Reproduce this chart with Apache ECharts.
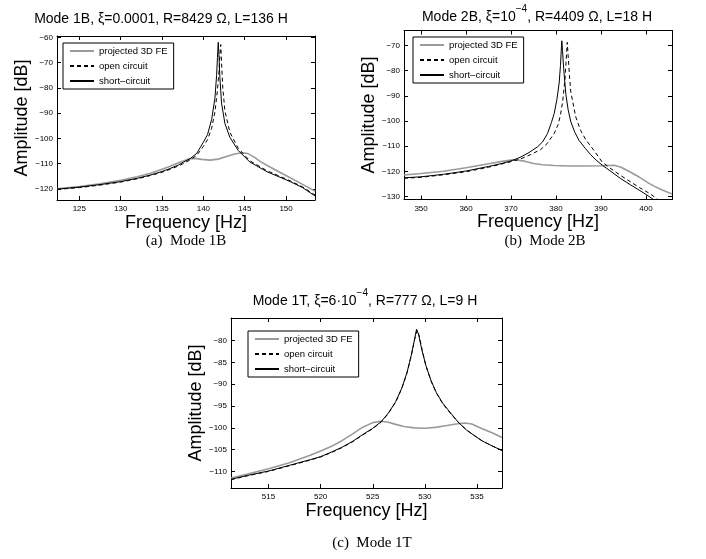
<!DOCTYPE html>
<html>
<head>
<meta charset="utf-8">
<script src="https://cdn.jsdelivr.net/npm/echarts@6/dist/echarts.min.js"></script>
<style>
html,body{margin:0;padding:0;background:#fff;}
#c{width:706px;height:559px;}
</style>
</head>
<body>
<div id="c"></div>
<script>
// ---------- DATA ----------
const seriesNames = ['projected 3D FE', 'open circuit', 'short\u2013circuit'];

// Panel (a) Mode 1B
const p1XTicks = [125, 130, 135, 140, 145, 150];
const p1YTicks = [-120, -110, -100, -90, -80, -70, -60];
const p1FeF = [122.3,125,127.5,130,132,133.6,135,136,137,137.6,138.3,139,139.8,140.8,141.8,142.8,143.8,144.6,145.4,146.2,146.9,148,149.7,151.5,153.5];
const p1FeA = [-120,-119.1,-118,-116.6,-115.2,-113.8,-112.2,-111,-109.6,-108.9,-108.1,-107.9,-108.3,-108.6,-108.2,-107.2,-106.2,-105.7,-106,-107.5,-109.2,-111.2,-114.2,-117.3,-120.9];
const p1OcF = [122.3,125,127.5,130,132,133.6,135,136,137,137.6,138.4,139.2,140,140.5,141,141.4,141.7,141.9,142,142.1,142.2,142.35,142.6,143.2,144.2,145.6,147.7,150.5,152,153.5];
const p1OcA = [-120.2,-119.5,-118.5,-117.3,-116,-114.7,-113.4,-112.2,-110.9,-109.9,-108.5,-106.7,-103.2,-100.5,-96,-89.5,-81,-73,-67,-62.8,-70,-80,-89,-97.5,-103.8,-108.8,-112.8,-116.8,-119.2,-122.4];
const p1ScF = [122.3,125,127.5,130,132,133.6,135,136,137,137.6,138.4,139.2,140,140.5,141,141.4,141.6,141.7,141.8,141.9,142,142.2,142.6,143.2,144.2,145.6,147.7,150.5,152,153.5];
const p1ScA = [-120.1,-119.3,-118.3,-117.1,-115.8,-114.5,-113.1,-111.9,-110.5,-109.4,-108,-105.9,-101.5,-98.5,-92.5,-84,-75,-68,-61.9,-68,-76,-86,-94,-99.5,-104.7,-109.3,-113.2,-117.1,-119.5,-122.8];

// Panel (b) Mode 2B
const p2XTicks = [350, 360, 370, 380, 390, 400];
const p2YTicks = [-130, -120, -110, -100, -90, -80, -70];
const p2FeF = [346.2,350,355,360,365,368,370,371.5,373,375,377,379.6,383,387,390,392.9,394.5,396.6,398.5,400.5,401.8,403.5,405.8];
const p2FeA = [-121.4,-120.8,-119.9,-118.5,-116.9,-116,-115.5,-115.5,-115.9,-116.8,-117.3,-117.6,-117.8,-117.8,-117.7,-117.5,-118.3,-120.3,-122.2,-124.5,-125.8,-127.2,-128.9];
const p2OcF = [346.2,350,355,360,365,368,370,372,374,376.6,378,379.6,380.5,381,381.5,382,382.3,382.5,382.7,383,383.3,384.4,385.5,386.6,388.5,390.3,392,394.3,396.5,398.5,401,402.6];
const p2OcA = [-122.7,-122.3,-121.3,-120.1,-118.3,-117,-116.1,-115.1,-113.6,-111.3,-109,-104.9,-101.3,-97.5,-92,-83.5,-75,-68.8,-74,-82,-88.5,-98.4,-103.8,-107.3,-111.8,-116.3,-118.6,-121.5,-124,-126.3,-128.9,-131];
const p2ScF = [346.2,350,355,360,365,368,370,372,374,375.9,377,378.1,379,379.6,380.2,380.7,381,381.2,381.3,381.45,381.7,382.2,382.7,383.3,384.2,385.1,386.5,387.7,389,390.3,392,394.3,396.5,398.5,400.2,401.6];
const p2ScA = [-122.5,-122.1,-121.1,-119.8,-118,-116.8,-115.8,-114.4,-112.5,-110.2,-108.3,-105,-100.5,-97,-91.5,-85,-78,-71,-68.2,-72,-79,-89.5,-95.5,-100.3,-104.5,-107.6,-110.8,-113.3,-115.6,-117.5,-119.7,-122.7,-125.2,-127.4,-129.3,-131];

// Panel (c) Mode 1T
const p3XTicks = [515, 520, 525, 530, 535];
const p3YTicks = [-110, -105, -100, -95, -90, -85, -80];
const p3FeF = [511.4,513,515,517,519,520,521,522,523,524,525,525.8,526.5,527.2,528,529,530,531,532,533,533.8,534.5,535.5,536.5,537.4];
const p3FeA = [-111.5,-110.6,-109.4,-108,-106.3,-105.3,-104.3,-103,-101.5,-99.9,-98.8,-98.5,-98.7,-99.2,-99.7,-100,-100.1,-99.9,-99.5,-99.1,-98.9,-99.1,-100.2,-101.2,-102.2];
const p3OcF = [511.4,513,515,517,519,520,521,522,523,524,525,525.8,526.5,527.2,527.8,528.3,528.7,529,529.25,529.45,529.75,530.1,530.6,531.1,531.7,532.4,533.2,534,534.7,535.5,536.5,537.4];
const p3OcA = [-111.9,-111,-110,-108.7,-107.4,-106.7,-105.7,-104.6,-103.3,-101.7,-100.2,-98.7,-96.7,-94.1,-90.9,-87.3,-83.4,-79.9,-77.6,-78.8,-82.2,-85.8,-89.3,-92,-94.4,-96.5,-98.7,-100.5,-101.7,-103,-104.2,-105.2];
const p3ScF = [511.4,513,515,517,519,520,521,522,523,524,525,525.8,526.5,527.2,527.8,528.3,528.7,529,529.2,529.4,529.7,530.1,530.6,531.1,531.7,532.4,533.2,534,534.7,535.5,536.5,537.4];
const p3ScA = [-111.8,-110.9,-109.9,-108.6,-107.3,-106.6,-105.6,-104.5,-103.2,-101.6,-100.1,-98.6,-96.6,-94,-90.8,-87.2,-83.3,-79.8,-77.4,-78.6,-82,-85.7,-89.2,-91.9,-94.3,-96.4,-98.7,-100.5,-101.7,-103,-104.2,-105.2];

// ---------- CHART ----------
const FONT = '"Liberation Sans", Arial, Helvetica, sans-serif';
const SERIF = '"Liberation Serif", "Times New Roman", serif';
const GRAY = '#9a9a9a';

const panels = [
  {grid:{left:57, top:36, width:258, height:164}, xr:[122.3,153.5], yr:[-124.4,-59.4], xt:p1XTicks, yt:p1YTicks,
   fe:[p1FeF,p1FeA], oc:[p1OcF,p1OcA], sc:[p1ScF,p1ScA], legend:{left:63, top:43}},
  {grid:{left:404, top:30.5, width:268, height:169}, xr:[346.2,405.8], yr:[-131.1,-64.1], xt:p2XTicks, yt:p2YTicks,
   fe:[p2FeF,p2FeA], oc:[p2OcF,p2OcA], sc:[p2ScF,p2ScA], legend:{left:413, top:37}},
  {grid:{left:231, top:318, width:271, height:170}, xr:[511.4,537.4], yr:[-113.8,-74.8], xt:p3XTicks, yt:p3YTicks,
   fe:[p3FeF,p3FeA], oc:[p3OcF,p3OcA], sc:[p3ScF,p3ScA], legend:{left:248, top:331}}
];

function zip(f, a) { return f.map((v, i) => [v, a[i]]); }
const minusFmt = v => String(v).replace('-', '\u2212');

const grids = [], xAxes = [], yAxes = [], series = [], legends = [];
panels.forEach((p, i) => {
  grids.push(Object.assign({show:false, containLabel:false}, p.grid));
  const tickCommon = {show:true, inside:true, length:4, lineStyle:{color:'#000', width:1}};
  const lineCommon = {show:true, onZero:false, lineStyle:{color:'#000', width:1}};
  xAxes.push({type:'value', gridIndex:i, position:'bottom', min:p.xr[0], max:p.xr[1],
    axisLine:lineCommon, axisTick:Object.assign({customValues:p.xt}, tickCommon),
    axisLabel:{customValues:p.xt, fontSize:8, margin:5, color:'#000', fontFamily:FONT, formatter:minusFmt},
    splitLine:{show:false}, name:'Frequency [Hz]', nameLocation:'middle', nameGap:13,
    nameTextStyle:{fontSize:18, color:'#000', fontFamily:FONT}});
  xAxes.push({type:'value', gridIndex:i, position:'top', min:p.xr[0], max:p.xr[1],
    axisLine:lineCommon, axisTick:Object.assign({customValues:p.xt}, tickCommon),
    axisLabel:{show:false}, splitLine:{show:false}});
  yAxes.push({type:'value', gridIndex:i, position:'left', min:p.yr[0], max:p.yr[1],
    axisLine:lineCommon, axisTick:Object.assign({customValues:p.yt}, tickCommon),
    axisLabel:{customValues:p.yt, fontSize:8, margin:4, color:'#000', fontFamily:FONT, formatter:minusFmt},
    splitLine:{show:false}, name:'Amplitude [dB]', nameLocation:'middle', nameGap:24,
    nameTextStyle:{fontSize:18, color:'#000', fontFamily:FONT}});
  yAxes.push({type:'value', gridIndex:i, position:'right', min:p.yr[0], max:p.yr[1],
    axisLine:lineCommon, axisTick:Object.assign({customValues:p.yt}, tickCommon),
    axisLabel:{show:false}, splitLine:{show:false}});
  const base = {type:'line', xAxisIndex:2*i, yAxisIndex:2*i, showSymbol:false, symbol:'none',
    clip:true, animation:false, smooth:false};
  series.push(Object.assign({}, base, {name:seriesNames[0], data:zip(p.fe[0], p.fe[1]),
    lineStyle:{color:GRAY, width:1.6}, itemStyle:{color:GRAY}}));
  series.push(Object.assign({}, base, {name:seriesNames[2], data:zip(p.sc[0], p.sc[1]),
    lineStyle:{color:'#000', width:1}, itemStyle:{color:'#000'}}));
  series.push(Object.assign({}, base, {name:seriesNames[1], data:zip(p.oc[0], p.oc[1]),
    lineStyle:{color:'#000', width:1, type:[4,3]}, itemStyle:{color:'#000'}}));
  legends.push({data:seriesNames, orient:'vertical', left:p.legend.left, top:p.legend.top,
    borderColor:'#000', borderWidth:1, backgroundColor:'#fff', padding:[3,6,3,6],
    itemGap:5, itemWidth:24, itemHeight:10, selectedMode:false,
    itemStyle:{opacity:0, borderWidth:0},
    textStyle:{fontSize:9.5, fontFamily:FONT, color:'#000'}});
});

function titleText(x, y, parts) {
  return {type:'text', x:x, y:y, z:100, style:{
    text: parts, align:'center', textAlign:'center', verticalAlign:'middle', textVerticalAlign:'middle',
    rich:{
      t:{fontSize:14, fontFamily:FONT, fill:'#000', color:'#000', lineHeight:20, verticalAlign:'bottom'},
      s:{fontSize:10, fontFamily:FONT, fill:'#000', color:'#000', lineHeight:12, verticalAlign:'top'}
    }}};
}
function caption(x, y, text) {
  return {type:'text', x:x, y:y, style:{text:text, font:'15px ' + SERIF, fill:'#000',
    align:'center', textAlign:'center', verticalAlign:'middle', textVerticalAlign:'middle'}};
}

const chart = echarts.init(document.getElementById('c'), null, {renderer:'canvas'});
chart.setOption({
  animation:false,
  backgroundColor:'#fff',
  grid:grids, xAxis:xAxes, yAxis:yAxes, series:series, legend:legends,
  graphic:[
    titleText(161, 16, '{t|Mode 1B, \u03BE=0.0001, R=8429 \u03A9, L=136 H}'),
    titleText(537, 14, '{t|Mode 2B, \u03BE=10}{s|\u22124}{t|, R=4409 \u03A9, L=18 H}'),
    titleText(365, 298, '{t|Mode 1T, \u03BE=6\u00B710}{s|\u22124}{t|, R=777 \u03A9, L=9 H}'),
    caption(186, 241, '(a)  Mode 1B'),
    caption(545, 241, '(b)  Mode 2B'),
    caption(372, 543, '(c)  Mode 1T')
  ]
});
</script>
</body>
</html>
